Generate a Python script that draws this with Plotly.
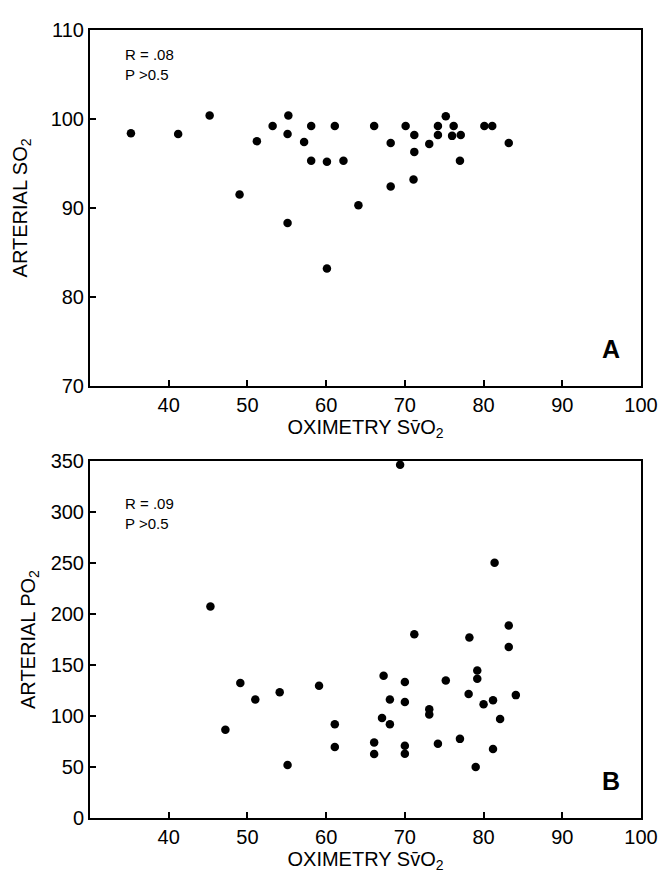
import plotly.graph_objects as go
from plotly.subplots import make_subplots

# Panel A: oximetry SvO2 vs arterial SO2
a_svo2 = [35.2, 41.2, 45.2, 49.0, 51.2, 53.2, 55.2, 55.1, 55.1, 57.2, 58.1, 58.1,
          60.1, 61.1, 62.2, 60.1, 64.1, 66.1, 68.2, 68.2, 70.1, 71.2, 71.2, 71.1,
          73.1, 74.2, 74.2, 75.2, 76.2, 76.0, 77.1, 77.0, 80.1, 81.1, 83.2]
a_sao2 = [98.4, 98.3, 100.4, 91.5, 97.5, 99.2, 100.4, 98.3, 88.3, 97.4, 99.2, 95.3,
          95.2, 99.2, 95.3, 83.2, 90.3, 99.2, 97.3, 92.4, 99.2, 98.2, 96.3, 93.2,
          97.2, 99.2, 98.2, 100.3, 99.2, 98.1, 98.2, 95.3, 99.2, 99.2, 97.3]

# Panel B: oximetry SvO2 vs arterial PO2
b_svo2 = [69.4, 81.4, 45.3, 83.2, 71.2, 78.2, 83.2, 79.2, 79.2, 67.3, 49.1, 70.0,
          75.2, 59.1, 54.1, 78.1, 84.1, 51.0, 68.1, 70.0, 81.2, 80.0, 73.1, 73.1,
          67.1, 82.1, 47.2, 61.1, 68.1, 66.1, 70.0, 74.2, 77.0, 61.1, 81.2, 66.1,
          70.0, 55.1, 79.0]
b_po2 = [346.5, 250.3, 207.4, 188.8, 180.2, 177.1, 167.6, 144.6, 136.5, 139.4, 132.4, 133.3,
         134.9, 129.8, 123.4, 121.5, 120.5, 116.3, 116.3, 113.8, 115.4, 111.5, 106.7, 101.6,
         98.1, 97.1, 86.6, 92.0, 92.0, 74.0, 70.8, 72.8, 77.6, 69.6, 67.6, 62.8,
         63.1, 51.9, 50.0]

x_ticks = [40, 50, 60, 70, 80, 90, 100]
a_yticks = [70, 80, 90, 100, 110]
b_yticks = [0, 50, 100, 150, 200, 250, 300, 350]

FONT = "Liberation Sans, Arial, Helvetica, sans-serif"

fig = make_subplots(rows=2, cols=1, vertical_spacing=0.0955)

marker = dict(color="black", size=8.5)
fig.add_trace(go.Scatter(x=a_svo2, y=a_sao2, mode="markers", marker=marker,
                         cliponaxis=False, showlegend=False), row=1, col=1)
fig.add_trace(go.Scatter(x=b_svo2, y=b_po2, mode="markers", marker=marker,
                         cliponaxis=False, showlegend=False), row=2, col=1)

axis_common = dict(showline=True, linecolor="black", linewidth=2, mirror=True,
                   ticks="inside", ticklen=6, tickwidth=2, tickcolor="black",
                   showgrid=False, zeroline=False,
                   tickfont=dict(family=FONT, size=20, color="black"))

title_font = dict(family=FONT, size=20, color="black")
xtitle = "OXIMETRY Sv\u0304O<sub>2</sub>"
fig.update_xaxes(range=[30, 100], tickvals=x_ticks, **axis_common)
fig.update_xaxes(title=dict(text=xtitle, font=title_font, standoff=2), row=1, col=1)
fig.update_xaxes(title=dict(text=xtitle, font=title_font, standoff=2), row=2, col=1)

fig.update_yaxes(range=[70, 110], tickvals=a_yticks,
                 title=dict(text="ARTERIAL SO<sub>2</sub>", font=title_font, standoff=18),
                 row=1, col=1, **axis_common)
fig.update_yaxes(range=[0, 350], tickvals=b_yticks,
                 title=dict(text="ARTERIAL PO<sub>2</sub>", font=title_font, standoff=10),
                 row=2, col=1, **axis_common)

# page body adds an 8px margin, so the figure is sized to fit inside 670x875
fig.update_layout(
    width=662, height=867,
    margin=dict(l=82, r=29, t=11, b=50),
    plot_bgcolor="white", paper_bgcolor="white",
    font=dict(family=FONT, color="black"),
)
fig.update_yaxes(domain=[0.5484, 1.0], row=1, col=1)
fig.update_yaxes(domain=[0.0, 0.4529], row=2, col=1)

ann_font = dict(family=FONT, size=15, color="black")
fig.add_annotation(x=0.06, y=0.96, xref="x domain", yref="y domain",
                   text="R = .08<br>P >0.5", showarrow=False, align="left",
                   xanchor="left", yanchor="top", font=ann_font)
fig.add_annotation(x=0.06, y=0.91, xref="x2 domain", yref="y2 domain",
                   text="R = .09<br>P >0.5", showarrow=False, align="left",
                   xanchor="left", yanchor="top", font=ann_font)
fig.add_annotation(x=0.965, y=0.06, xref="x domain", yref="y domain",
                   text="<b>A</b>", showarrow=False, xanchor="right", yanchor="bottom",
                   font=dict(family=FONT, size=25, color="black"))
fig.add_annotation(x=0.965, y=0.06, xref="x2 domain", yref="y2 domain",
                   text="<b>B</b>", showarrow=False, xanchor="right", yanchor="bottom",
                   font=dict(family=FONT, size=25, color="black"))

fig.write_html("out.html")
